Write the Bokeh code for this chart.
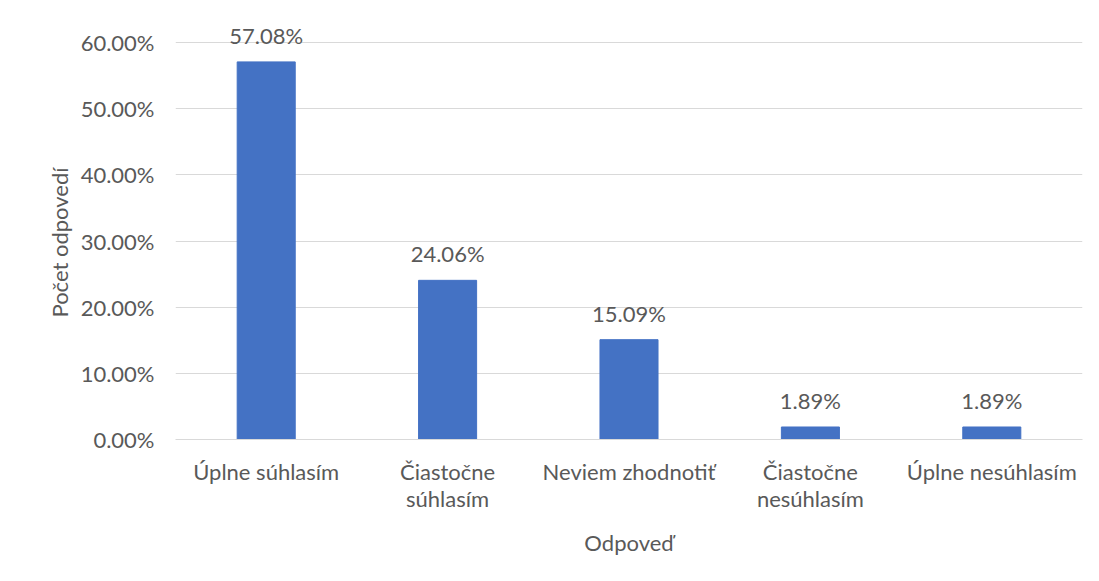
from bokeh.plotting import figure
from bokeh.models import ColumnDataSource, FixedTicker, LabelSet, NumeralTickFormatter, Range1d, Title
from bokeh.core.properties import value
from bokeh.embed import file_html
from bokeh.resources import INLINE

categories = ["Úplne súhlasím", "Čiastočne\nsúhlasím", "Neviem zhodnotiť", "Čiastočne\nnesúhlasím", "Úplne nesúhlasím"]
values = [0.5708, 0.2406, 0.1509, 0.0189, 0.0189]
labels = ["57.08%", "24.06%", "15.09%", "1.89%", "1.89%"]
y_ticks = [0, 0.1, 0.2, 0.3, 0.4, 0.5, 0.6]
y_title = "Počet odpovedí"
x_title = "Odpoveď"

FONT = "Lato"
TXT = "#595959"
W, H = 1083, 565
FL, FB = 175, 439   # frame left / bottom on the canvas

src = ColumnDataSource(dict(x=categories, top=values, lab=labels))

p = figure(x_range=categories, y_range=Range1d(0, 0.65), width=W, height=H,
           output_backend="svg", toolbar_location=None,
           min_border_left=FL, min_border_right=1, min_border_top=9, min_border_bottom=H - FB)
p.outline_line_color = None
p.background_fill_color = "white"
p.border_fill_color = "white"

p.vbar(x="x", top="top", width=0.32, source=src, color="#4472C4")

p.add_layout(LabelSet(x="x", y="top", text="lab", source=src, y_offset=18,
                      text_align="center", text_baseline="alphabetic",
                      text_font=value(FONT), text_font_size="22px", text_color=TXT))

p.yaxis.ticker = FixedTicker(ticks=y_ticks)
p.yaxis.formatter = NumeralTickFormatter(format="0.00%")
p.ygrid.ticker = FixedTicker(ticks=y_ticks)
p.ygrid.grid_line_color = "#d9d9d9"
p.ygrid.grid_line_width = 1
p.xgrid.grid_line_color = None

for ax in (p.xaxis, p.yaxis):
    ax.major_tick_line_color = None
    ax.minor_tick_line_color = None
    ax.major_label_text_font = FONT
    ax.major_label_text_font_size = "22px"
    ax.major_label_text_color = TXT
    ax.axis_label_text_font = FONT
    ax.axis_label_text_font_size = "22px"
    ax.axis_label_text_font_style = "normal"
    ax.axis_label_text_color = TXT

p.yaxis.axis_line_color = None
p.xaxis.axis_line_color = "#d9d9d9"
p.yaxis.major_label_standoff = 15
p.xaxis.major_label_standoff = 12
p.xaxis.major_label_text_line_height = 1.0
p.xaxis.axis_label = x_title
p.xaxis.axis_label_standoff = 14

# y-axis title as a left-side Title so it can be centred where the reference puts it
p.add_layout(Title(text=y_title, align="left", offset=122, standoff=10,
                   text_font=FONT, text_font_size="22px", text_font_style="normal",
                   text_color=TXT), "left")

open("out.html", "w").write(file_html(p, INLINE))
